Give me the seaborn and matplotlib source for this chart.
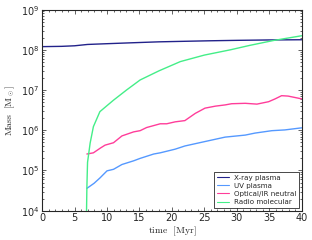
import seaborn as sns
import matplotlib.pyplot as plt
import matplotlib.ticker as mticker
import pandas as pd

# Values (time in Myr, mass in solar masses)
t_xray = [0, 3, 5, 7, 10, 14, 18, 22, 26, 30, 35, 40]
m_xray = [1.20e8, 1.22e8, 1.26e8, 1.36e8, 1.42e8, 1.50e8, 1.58e8, 1.63e8,
          1.68e8, 1.72e8, 1.76e8, 1.78e8]

t_uv = [6.9, 8.0, 8.9, 10.0, 11.0, 12.3, 14.1, 15.1, 17.2, 18.2, 20.5, 22.0,
        25.1, 28.2, 31.3, 32.8, 35.4, 37.4, 40]
m_uv = [3.6e4, 4.8e4, 6.5e4, 9.8e4, 1.07e5, 1.41e5, 1.74e5, 2.0e5, 2.57e5,
        2.75e5, 3.39e5, 4.07e5, 5.25e5, 6.76e5, 7.59e5, 8.51e5, 9.77e5,
        1.02e6, 1.15e6]

t_opt = [6.9, 7.9, 9.0, 9.7, 11.0, 12.3, 14.1, 15.1, 16.1, 18.2, 19.2, 20.5,
         22.0, 23.6, 25.1, 26.7, 28.2, 29.2, 31.3, 33.1, 34.9, 35.9, 36.9,
         37.9, 40]
m_opt = [2.57e5, 2.75e5, 3.63e5, 4.27e5, 4.9e5, 7.24e5, 9.12e5, 9.77e5,
         1.17e6, 1.45e6, 1.45e6, 1.62e6, 1.74e6, 2.63e6, 3.55e6, 3.98e6,
         4.27e6, 4.57e6, 4.68e6, 4.47e6, 5.13e6, 6.03e6, 7.24e6, 7.08e6, 6.03e6]

t_radio = [6.75, 6.9, 7.0, 7.4, 7.9, 8.9, 10.0, 11.0, 13.0, 15.1, 18.0, 21.3,
           25.0, 29.0, 32.0, 35.6, 40]
m_radio = [1e3, 4e4, 1.6e5, 4.8e5, 1.23e6, 2.9e6, 4.1e6, 5.6e6, 1.0e7, 1.78e7,
           3.0e7, 5.1e7, 7.4e7, 1.0e8, 1.29e8, 1.7e8, 2.24e8]

names = ["X-ray plasma", "UV plasma", "Optical/IR neutral", "Radio molecular"]
colors = ["#22228a", "#5599ff", "#ff3d9a", "#44ee88"]

frames = []
for name, t, m in zip(names, [t_xray, t_uv, t_opt, t_radio],
                      [m_xray, m_uv, m_opt, m_radio]):
    frames.append(pd.DataFrame({"time": t, "mass": m, "component": name}))
df = pd.concat(frames, ignore_index=True)

sns.set_style("ticks")
plt.rcParams["mathtext.fontset"] = "cm"

fig = plt.figure(figsize=(3.12, 2.4), dpi=100)
ax = fig.add_axes([0.135, 0.122, 0.832, 0.838])

sns.lineplot(data=df, x="time", y="mass", hue="component", hue_order=names,
             palette=dict(zip(names, colors)), estimator=None, linewidth=1.0,
             ax=ax)

ax.set_yscale("log")
ax.set_xlim(0, 40)
ax.set_ylim(1e4, 1e9)
ax.xaxis.set_major_locator(mticker.MultipleLocator(5))
ax.xaxis.set_minor_locator(mticker.MultipleLocator(1))
ax.yaxis.set_minor_locator(mticker.LogLocator(base=10, subs=range(2, 10)))

ax.tick_params(which="both", direction="in", top=True, right=True,
               labelsize=7, width=0.5, pad=2)
ax.tick_params(which="major", length=3)
ax.tick_params(which="minor", length=1.5)
for s in ax.spines.values():
    s.set_linewidth(0.8)

ax.set_xlabel(r"$\mathrm{time\ \ [Myr]}$", fontsize=7, labelpad=1)
ax.set_ylabel(r"$\mathrm{Mass\ \ [M_\odot]}$", fontsize=7, labelpad=3)

leg = ax.legend(loc="lower right", fontsize=5.1, frameon=True, fancybox=False,
                framealpha=1, edgecolor="black", handlelength=1.7,
                labelspacing=0.3, borderpad=0.35, handletextpad=0.7,
                borderaxespad=0.45)
leg.get_frame().set_linewidth(0.5)
for line in leg.get_lines():
    line.set_linewidth(0.8)

plt.savefig("out.png", dpi=100)
